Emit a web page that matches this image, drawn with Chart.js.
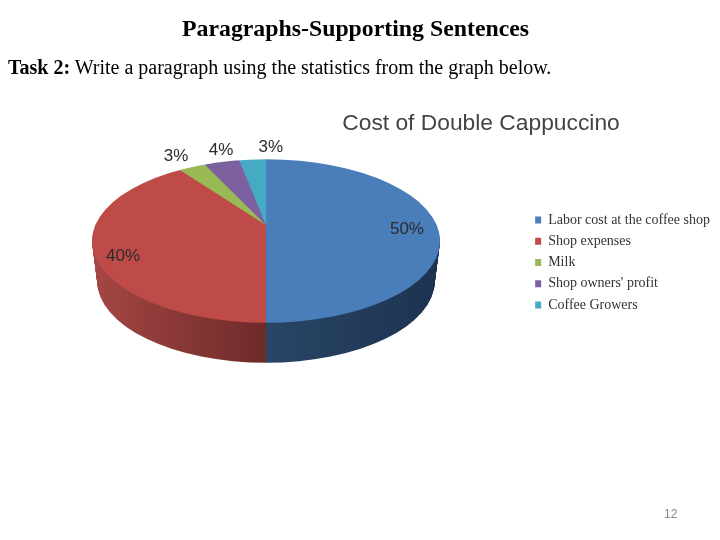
<!DOCTYPE html>
<html lang="en">
<head>
  <meta charset="UTF-8">
  <title>Cost of Double Cappuccino</title>
  <script src="https://cdn.jsdelivr.net/npm/chart.js"></script>
  <style>
    body, html {
      margin: 0;
      padding: 0;
      background-color: #fff;
    }
    #myChart {
      position: absolute;
      left: 0;
      top: 0;
    }
    .txt {
      position: absolute;
      white-space: nowrap;
      font-family: "Liberation Serif", serif;
      color: #000;
    }
    #heading {
      left: 182px;
      top: 15px;
      font-size: 23.8px;
      font-weight: bold;
    }
    #task {
      left: 8px;
      top: 56px;
      font-size: 20px;
    }
    #pageNo {
      left: 664px;
      top: 507px;
      font-family: "Liberation Sans", sans-serif;
      font-size: 12px;
      color: #8a8a8a;
    }
  </style>
</head>
<body>
  <canvas id="myChart" width="720" height="540"></canvas>
  <div class="txt" id="heading">Paragraphs-Supporting Sentences</div>
  <div class="txt" id="task"><b>Task 2:</b> Write a paragraph using the statistics from the graph below.</div>
  <div class="txt" id="pageNo">12</div>

  <script>
    const categories = ['Labor cost at the coffee shop', 'Shop expenses', 'Milk', "Shop owners' profit", 'Coffee Growers'];
    const shares = [50, 40, 3, 4, 3];
    const colors = ['#4a7ebb', '#be4b48', '#98b954', '#7d60a0', '#46aac4'];
    // side wall shading, left to right
    const sideColors = [['#2a4566', '#1c3350'], ['#a54644', '#6d2b29'], ['#98b954', '#98b954'], ['#7d60a0', '#7d60a0'], ['#46aac4', '#46aac4']];

    // look of the tilted pie: outline ellipse, and the tip of the slices sits above its centre
    const pie = { x: 266, y: 241, rx: 174, ry: 81.7, tipY: 225, depth: 40, bottomShrink: 0.97, squash: 2.15, spread: 1.4 };
    // where each % label sits: fraction of the radius, then a nudge in px
    const labelRadius = [0.81, 0.864, 1.05, 1.05, 1.05];
    const labelNudge = [[0, -12], [0, -7], [3, -11], [11.5, -9], [22, -8]];

    // clip to the outline, then draw the slices a bit larger from the tip
    function tilt(ctx, arc, dy, shrink) {
      ctx.beginPath();
      ctx.ellipse(pie.x, pie.y + dy, pie.rx * shrink, pie.ry, 0, 0, Math.PI * 2);
      ctx.clip();
      const s = pie.rx * pie.spread / arc.outerRadius;
      ctx.translate(pie.x, pie.tipY + dy);
      ctx.scale(s, s / pie.squash);
      ctx.translate(-arc.x, -arc.y);
    }

    const tiltedPie = {
      id: 'tiltedPie',
      beforeDatasetsDraw(chart) {
        const ctx = chart.ctx;
        const arcs = chart.getDatasetMeta(0).data;
        // side wall: the same arcs stacked downwards, deepest first
        for (let dy = pie.depth; dy >= 1; dy--) {
          const shrink = 1 - (1 - pie.bottomShrink) * dy / pie.depth;
          ctx.save();
          tilt(ctx, arcs[0], dy, shrink);
          arcs.forEach((arc, i) => {
            const reach = arc.outerRadius / pie.spread;
            const g = ctx.createLinearGradient(i === 0 ? arc.x : arc.x - reach, 0, i === 0 ? arc.x + reach : arc.x, 0);
            g.addColorStop(0, sideColors[i][0]);
            g.addColorStop(1, sideColors[i][1]);
            const keep = arc.options;
            arc.options = Object.assign({}, keep, { backgroundColor: g, borderWidth: 0 });
            arc.draw(ctx);
            arc.options = keep;
          });
          ctx.restore();
        }
        ctx.save();
        tilt(ctx, arcs[0], 0, 1);
      },
      afterDatasetsDraw(chart) {
        const ctx = chart.ctx;
        ctx.restore();
        const arcs = chart.getDatasetMeta(0).data;
        ctx.save();
        ctx.font = '17px "Liberation Sans", sans-serif';
        ctx.fillStyle = '#2b2b2b';
        ctx.textAlign = 'center';
        ctx.textBaseline = 'middle';
        arcs.forEach((arc, i) => {
          const mid = (arc.startAngle + arc.endAngle) / 2;
          const x = pie.x + Math.cos(mid) * pie.rx * labelRadius[i] + labelNudge[i][0];
          const y = pie.y + Math.sin(mid) * pie.ry * labelRadius[i] + labelNudge[i][1];
          ctx.fillText(shares[i] + '%', x, y);
        });
        ctx.restore();
      }
    };

    const myChart = new Chart(document.getElementById('myChart').getContext('2d'), {
      type: 'pie',
      data: {
        labels: categories,
        datasets: [{
          data: shares,
          backgroundColor: colors,
          borderWidth: 0
        }]
      },
      options: {
        responsive: false,
        animation: false,
        layout: { padding: { left: 242, top: 110, right: 0, bottom: 125 } },
        plugins: {
          title: {
            display: true,
            text: 'Cost of Double Cappuccino',
            color: '#444',
            font: { family: '"Liberation Sans", sans-serif', size: 22.8, weight: 'normal' },
            padding: 0
          },
          legend: {
            position: 'right',
            labels: {
              color: '#333',
              font: { family: '"Liberation Serif", serif', size: 14 },
              boxWidth: 6,
              boxHeight: 7,
              padding: 7.3
            }
          },
          tooltip: { enabled: false }
        }
      },
      plugins: [tiltedPie]
    });
  </script>
</body>
</html>
